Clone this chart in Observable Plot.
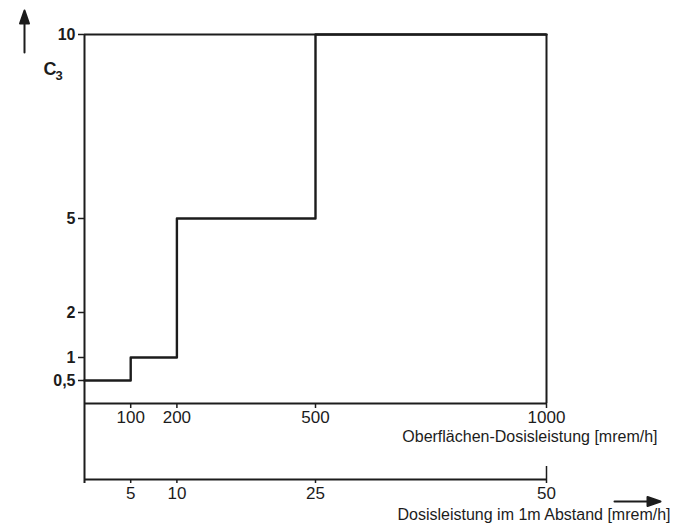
<!DOCTYPE html>
<html><head><meta charset="utf-8">
<script src="https://cdn.jsdelivr.net/npm/d3@7"></script>
<script src="https://cdn.jsdelivr.net/npm/@observablehq/plot@0.6"></script>
<style>body{margin:0;background:#fff}</style>
</head><body><div id="chart"></div>
<script>
// Data: step function C3 versus surface dose rate
const surfaceRate = [0, 100, 200, 500, 1000];      // mrem/h (upper axis)
const c3Values    = [0.5, 1, 5, 10, 10];
const yTicks      = [0.5, 1, 2, 5, 10];
const upperTicks  = [100, 200, 500, 1000];
const lowerTicks  = [5, 10, 25, 50];                // mrem/h at 1 m
const ratio       = 20;                             // surface rate / rate at 1 m
const yLabel      = "C";
const yLabelSub   = "3";
const upperTitle  = "Oberflächen-Dosisleistung [mrem/h]";
const lowerTitle  = "Dosisleistung im 1m Abstand [mrem/h]";

// the original figure's ordinate is hand-graduated (non-uniform): piecewise-linear transform
const yKnots  = [0, 0.5, 1, 2, 5, 10];
const yUnits  = [0, 23, 46, 91, 185, 369];
const yWarp   = d3.scaleLinear(yKnots, yUnits);
const yTickLabel = new Map(yTicks.map(t => [yWarp(t), String(t).replace(".", ",")]));

const steps = surfaceRate.map((x, i) => ({x, y: c3Values[i]}));
const ink = "#1c1c1c";
const lowerOffset = 76;

// filled-head arrow shape for vector marks
const arrowShape = {
  draw(context, l) {
    const h = 13, w = 4.5;
    context.moveTo(0, 0);
    context.lineTo(0, -l + h);
    context.moveTo(-w, -l + h);
    context.lineTo(0, -l);
    context.lineTo(w, -l + h);
    context.closePath();
  }
};

const chart = Plot.plot({
  width: 678, height: 531,
  marginLeft: 84, marginRight: 132, marginTop: 34, marginBottom: 128,
  style: {fontFamily: "'Liberation Sans', Arial, sans-serif", fontSize: "16px", color: ink, background: "#fff"},
  x: {domain: [0, 1000]},
  y: {transform: yWarp, domain: [yUnits[0], yUnits[yUnits.length - 1]]},
  marks: [
    // frame lines
    Plot.ruleY([10], {stroke: ink, strokeWidth: 2}),
    Plot.ruleX([1000], {stroke: ink, strokeWidth: 2}),
    Plot.ruleY([0], {stroke: ink, strokeWidth: 2}),
    Plot.ruleY([0], {stroke: ink, strokeWidth: 2, dy: lowerOffset}),
    Plot.ruleX([0], {stroke: ink, strokeWidth: 2, insetBottom: -(lowerOffset + 4)}),
    // step curve
    Plot.line(steps, {x: "x", y: "y", curve: "step-after", stroke: ink, strokeWidth: 2.4}),
    // y axis (tick positions passed through the same warp)
    Plot.axisY({ticks: yTicks.map(yWarp), tickFormat: d => yTickLabel.get(d), tickSize: 6, tickPadding: 3,
      label: null, fontWeight: "bold", fontSize: 16, strokeWidth: 1.5}),
    // upper x axis
    Plot.axisX({ticks: upperTicks, tickFormat: d => String(d), tickSize: 5, tickPadding: 2,
      label: null, fontSize: 17, strokeWidth: 1.5}),
    // lower x axis (1 m distance)
    Plot.axisX({ticks: lowerTicks.map(v => v * ratio), tickFormat: d => String(d / ratio), tickSize: 4,
      tickPadding: 3, label: null, fontSize: 17, dy: lowerOffset, strokeWidth: 1.5}),
    Plot.axisX({ticks: [lowerTicks[lowerTicks.length - 1] * ratio], tickFormat: () => "", tickSize: -13,
      label: null, dy: lowerOffset, strokeWidth: 1.5}),
    // titles
    Plot.text([yLabel], {text: d => d, frameAnchor: "top-left", dx: -41, dy: 28, fontSize: 18, fontWeight: "bold"}),
    Plot.text([yLabelSub], {text: d => d, frameAnchor: "top-left", dx: -29, dy: 36, fontSize: 13, fontWeight: "bold"}),
    Plot.vector([0], {frameAnchor: "top-left", dx: -60, dy: 18, length: 42, rotate: 0, anchor: "start",
      shape: arrowShape, stroke: ink, fill: ink, strokeWidth: 2}),
    Plot.text([upperTitle], {text: d => d, frameAnchor: "bottom-right", textAnchor: "end", dx: 111, dy: 38, fontSize: 16}),
    Plot.text([lowerTitle], {text: d => d, frameAnchor: "bottom-right", textAnchor: "end", dx: 124, dy: 116, fontSize: 16}),
    Plot.vector([0], {frameAnchor: "bottom-right", dx: 68, dy: 98, length: 46, rotate: 90, anchor: "start",
      shape: arrowShape, stroke: ink, fill: ink, strokeWidth: 2})
  ]
});
document.getElementById("chart").appendChild(chart);
</script>
</body></html>
